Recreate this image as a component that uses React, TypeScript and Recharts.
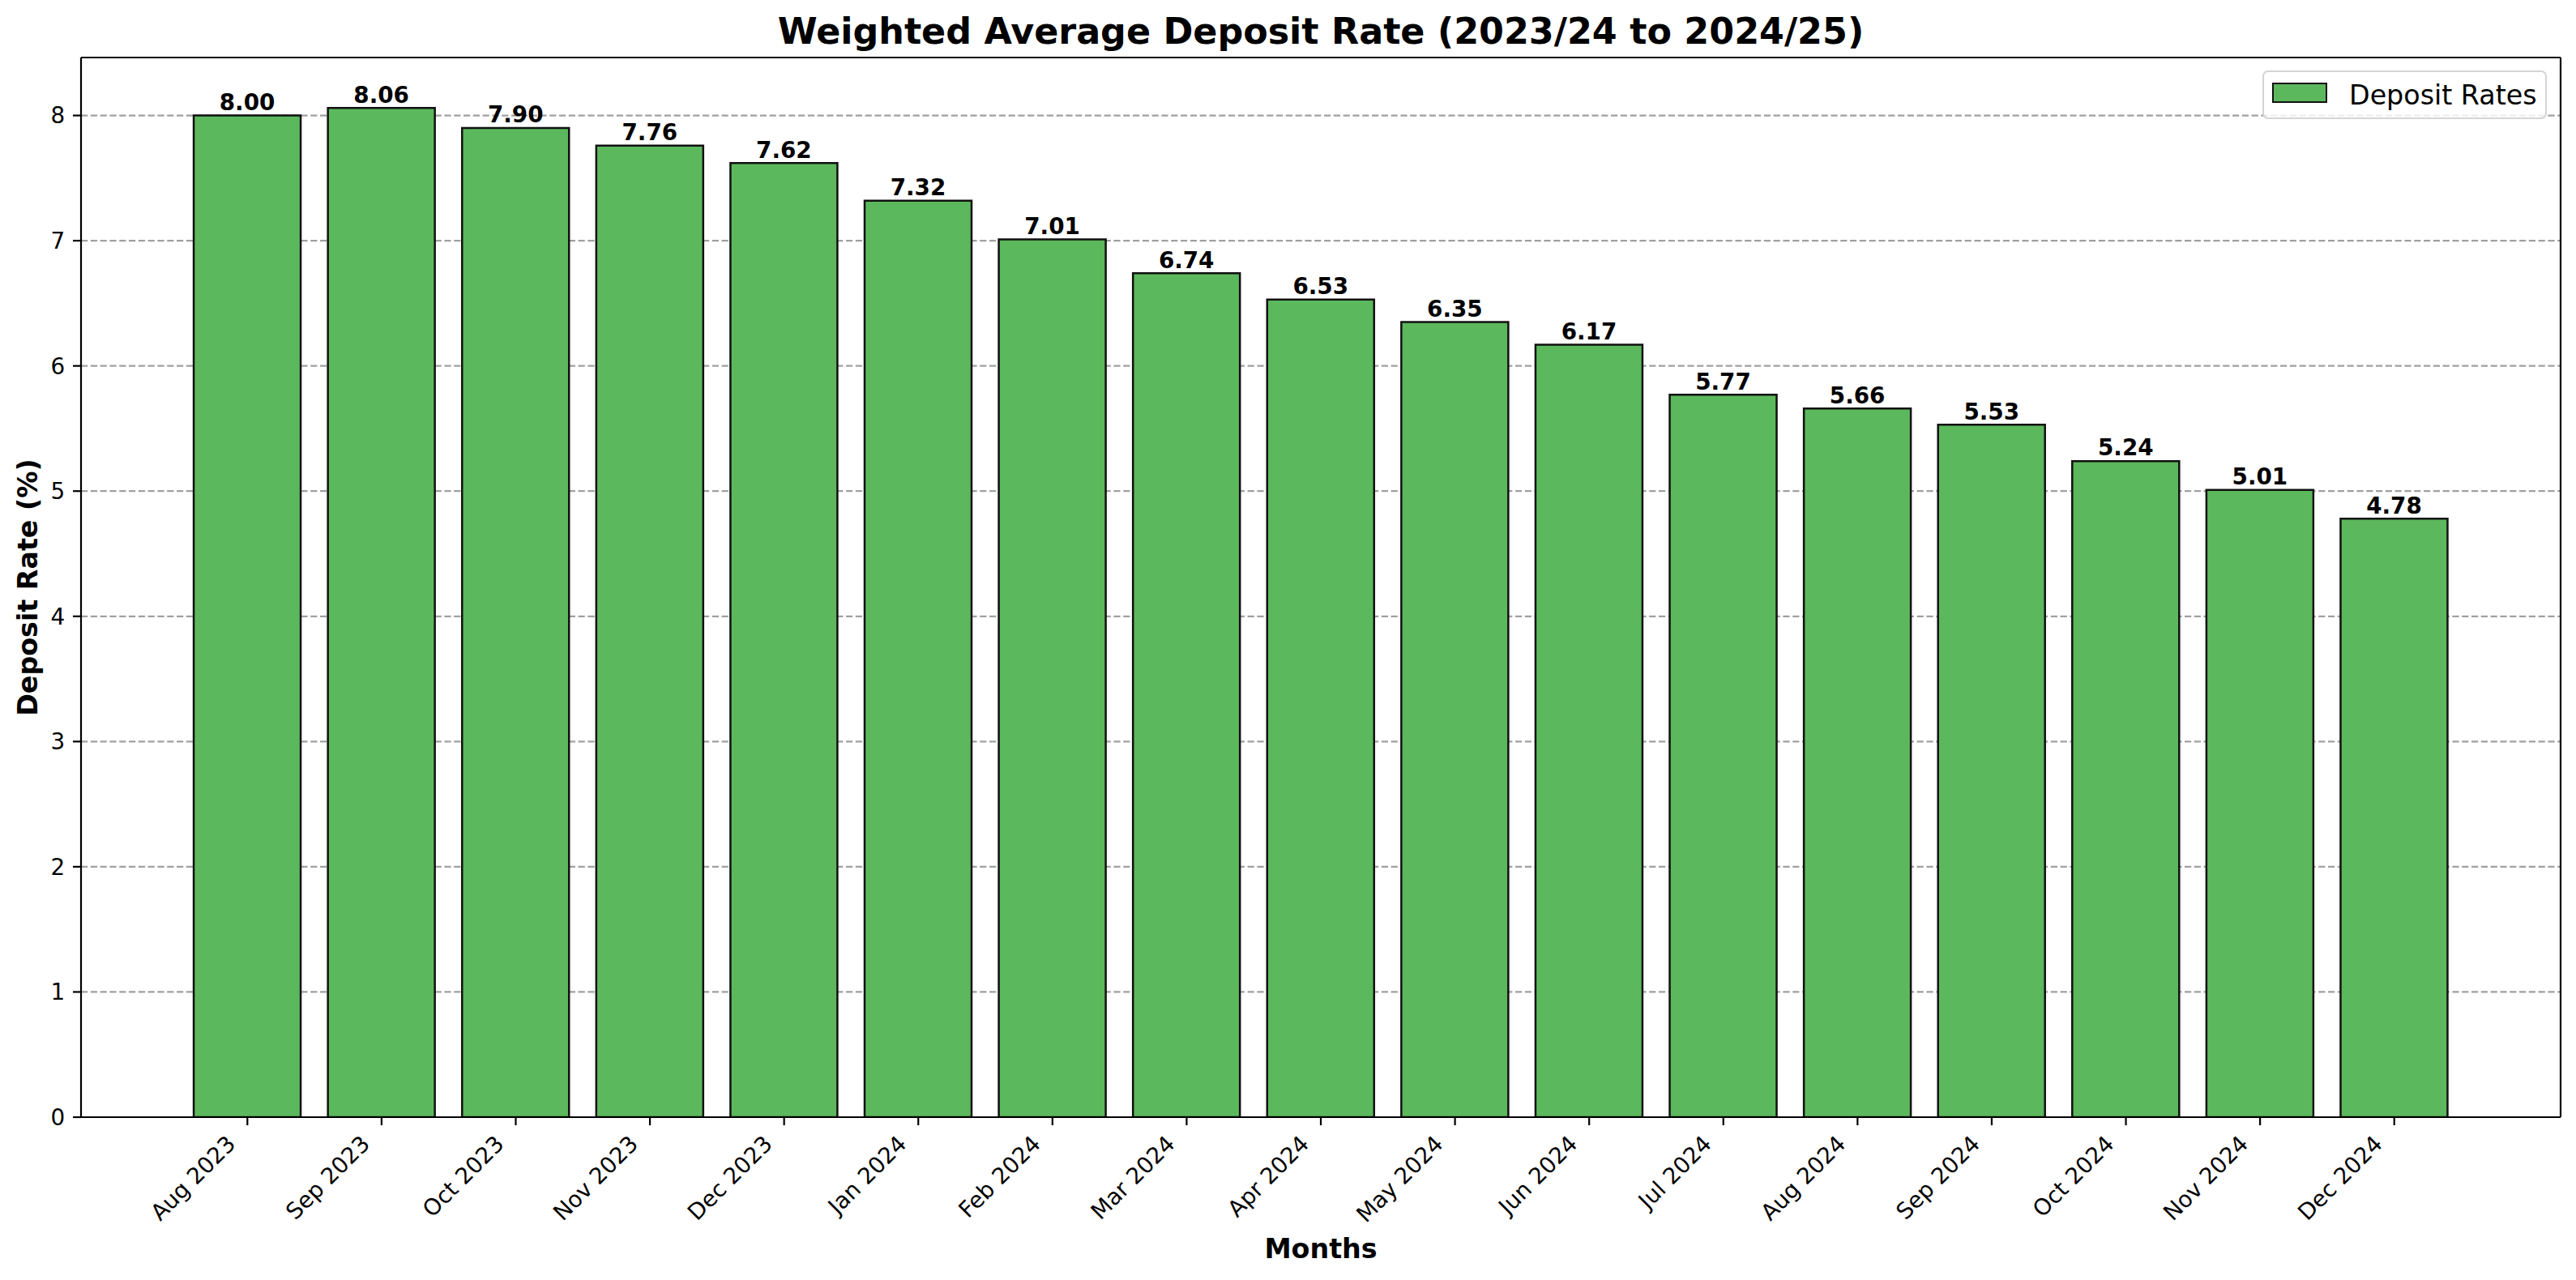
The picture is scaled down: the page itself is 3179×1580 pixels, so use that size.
import React from 'react';
import {
  BarChart,
  Bar,
  XAxis,
  YAxis,
  CartesianGrid,
  Legend,
  LabelList,
  Label,
} from 'recharts';

const months = [
  'Aug 2023', 'Sep 2023', 'Oct 2023', 'Nov 2023', 'Dec 2023', 'Jan 2024',
  'Feb 2024', 'Mar 2024', 'Apr 2024', 'May 2024', 'Jun 2024', 'Jul 2024',
  'Aug 2024', 'Sep 2024', 'Oct 2024', 'Nov 2024', 'Dec 2024',
];
const depositRates = [
  8.0, 8.06, 7.9, 7.76, 7.62, 7.32, 7.01, 6.74, 6.53, 6.35, 6.17, 5.77, 5.66,
  5.53, 5.24, 5.01, 4.78,
];
const yTicks = [0, 1, 2, 3, 4, 5, 6, 7, 8];

const data = months.map((month, i) => ({ month, rate: depositRates[i] }));

const FONT = 'DejaVu Sans';
const GREEN = '#5cb85c';
const W = 3179;
const H = 1580;

const MonthTick = (props: any) => {
  const { x, y, payload } = props;
  return (
    <g transform={`translate(${x - 13},${y + 15})`}>
      <text
        transform="rotate(-45)"
        textAnchor="end"
        fontFamily={FONT}
        fontSize={27.8}
        fill="#000"
      >
        {payload.value}
      </text>
    </g>
  );
};

const ValueLabel = (props: any) => {
  const { x, y, width, value } = props;
  return (
    <text
      x={x + width / 2}
      y={y - 6.7}
      textAnchor="middle"
      fontFamily={FONT}
      fontSize={27.8}
      fontWeight="bold"
      fill="#000"
    >
      {Number(value).toFixed(2)}
    </text>
  );
};

const LegendBox = () => (
  <div
    style={{
      position: 'relative',
      width: 351,
      height: 60,
      boxSizing: 'border-box',
      border: '2px solid #d4d4d4',
      borderRadius: 7,
      background: 'rgba(255,255,255,0.8)',
      fontFamily: FONT,
    }}
  >
    <div
      style={{
        position: 'absolute',
        left: 10,
        top: 13,
        width: 68,
        height: 25,
        boxSizing: 'border-box',
        background: GREEN,
        border: '2.5px solid #111',
      }}
    />
    <div
      style={{
        position: 'absolute',
        left: 105,
        top: 10,
        fontSize: 33.3,
        lineHeight: '38px',
        color: '#000',
        whiteSpace: 'nowrap',
      }}
    >
      Deposit Rates
    </div>
  </div>
);

export default function App() {
  return (
    <div style={{ position: 'absolute', left: 0, top: 0, width: W, height: H, background: '#fff' }}>
      <BarChart
        width={W}
        height={H}
        data={data}
        margin={{ top: 70, right: 18, bottom: 0, left: 0 }}
        barCategoryGap="10%"
      >
        <CartesianGrid
          vertical={false}
          stroke="#a0a0a0"
          strokeWidth={2.2}
          strokeDasharray="8.2 3.6"
          horizontalValues={yTicks}
        />
        <XAxis
          dataKey="month"
          height={201}
          padding={{ left: 122.5, right: 122.5 }}
          interval={0}
          tickSize={10}
          tickMargin={9.7}
          tick={<MonthTick />}
          axisLine={{ stroke: '#000', strokeWidth: 2.2 }}
          tickLine={{ stroke: '#000', strokeWidth: 2.2 }}
        >
          <Label
            content={(p: any) => {
              const vb = p.viewBox;
              return (
                <text
                  x={vb.x + vb.width / 2}
                  y={1553}
                  textAnchor="middle"
                  fontFamily={FONT}
                  fontSize={33.3}
                  fontWeight="bold"
                  fill="#000"
                >
                  Months
                </text>
              );
            }}
          />
        </XAxis>
        <XAxis
          xAxisId="top"
          dataKey="month"
          orientation="top"
          height={1}
          tick={false}
          tickLine={false}
          axisLine={{ stroke: '#000', strokeWidth: 2.2 }}
        >
          <Label
            content={(p: any) => {
              const vb = p.viewBox;
              return (
                <text
                  x={vb.x + vb.width / 2}
                  y={54}
                  textAnchor="middle"
                  fontFamily={FONT}
                  fontSize={44.4}
                  fontWeight="bold"
                  fill="#000"
                >
                  Weighted Average Deposit Rate (2023/24 to 2024/25)
                </text>
              );
            }}
          />
        </XAxis>
        <YAxis
          width={100}
          type="number"
          domain={[0, 8.463]}
          allowDataOverflow
          ticks={yTicks}
          interval={0}
          tickSize={10}
          tickMargin={9.7}
          tick={{ fontFamily: FONT, fontSize: 27.8, fill: '#000' }}
          axisLine={{ stroke: '#000', strokeWidth: 2.2 }}
          tickLine={{ stroke: '#000', strokeWidth: 2.2 }}
        >
          <Label
            content={(p: any) => {
              const vb = p.viewBox;
              const cy = vb.y + vb.height / 2;
              return (
                <text
                  x={46}
                  y={cy}
                  transform={`rotate(-90, 46, ${cy})`}
                  textAnchor="middle"
                  fontFamily={FONT}
                  fontSize={33.3}
                  fontWeight="bold"
                  fill="#000"
                >
                  Deposit Rate (%)
                </text>
              );
            }}
          />
        </YAxis>
        <YAxis
          yAxisId="right"
          orientation="right"
          width={1}
          type="number"
          domain={[0, 1]}
          tick={false}
          tickLine={false}
          axisLine={{ stroke: '#000', strokeWidth: 2.2 }}
        />
        <Legend
          layout="horizontal"
          verticalAlign="middle"
          align="center"
          content={() => <LegendBox />}
          wrapperStyle={{ position: 'absolute', left: 2792, top: 87, width: 351, height: 60 }}
        />
        <Bar
          dataKey="rate"
          name="Deposit Rates"
          fill={GREEN}
          stroke="#111"
          strokeWidth={2.5}
          isAnimationActive={false}
        >
          <LabelList dataKey="rate" content={<ValueLabel />} />
        </Bar>
      </BarChart>
    </div>
  );
}
